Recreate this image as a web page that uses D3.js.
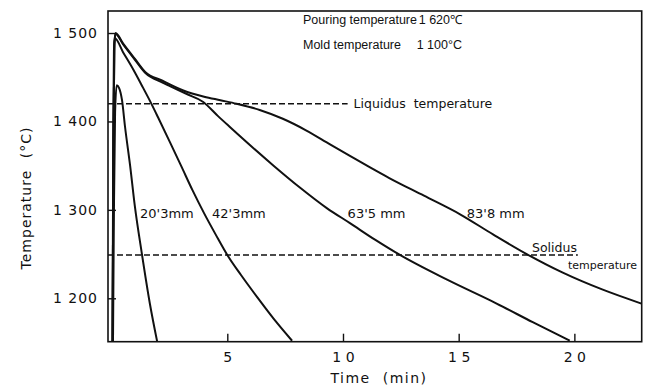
<!DOCTYPE html>
<html>
<head>
<meta charset="utf-8">
<script src="https://cdn.jsdelivr.net/npm/d3@7"></script>
<style>
  html, body { margin: 0; padding: 0; background: #fff; }
  svg { display: block; font-family: "DejaVu Sans", sans-serif; }
</style>
</head>
<body>
<svg id="chart" width="650" height="390"></svg>
<script>
// Cooling curves: [time (min), temperature (°C)]
const curve20 = [[0.06,1150],[0.10,1300],[0.15,1410],[0.22,1441],[0.32,1438],[0.45,1424],[0.58,1394],[0.80,1350],[1.00,1305],[1.31,1250],[1.66,1193],[1.97,1151]];
const curve42 = [[0.04,1150],[0.07,1380],[0.10,1480],[0.14,1494],[0.50,1478],[0.93,1459],[1.30,1441],[1.70,1421],[2.00,1405],[2.53,1376],[3.00,1350],[3.50,1322],[4.00,1296],[4.50,1272],[5.00,1249],[5.60,1226],[6.30,1201],[7.00,1177],[7.80,1152]];
const curve63 = [[0.04,1150],[0.08,1380],[0.12,1488],[0.17,1499],[0.50,1487],[1.00,1470],[1.45,1455],[2.20,1444],[2.52,1440],[3.25,1431],[3.96,1422],[4.60,1406],[5.10,1394],[6.12,1370],[7.00,1350],[8.15,1325],[9.30,1302],[10.30,1285],[11.40,1266],[12.46,1249],[14.50,1221],[16.64,1194],[18.20,1173],[19.80,1152]];
const curve84 = [[0.04,1150],[0.08,1380],[0.12,1488],[0.17,1500],[0.50,1488],[1.00,1471],[1.45,1456],[2.20,1446],[3.10,1435],[4.00,1428],[4.70,1424],[5.40,1420],[6.40,1413],[7.40,1403],[8.40,1390],[9.44,1374],[10.30,1361],[11.17,1348],[12.00,1336],[13.50,1316],[15.06,1295],[16.50,1272],[17.94,1250],[19.50,1229],[21.20,1210],[22.90,1194]];

const seriesNames = ["20'3mm", "42'3mm", "63'5 mm", "83'8 mm"];
// label anchor [time, temperature] for each curve label
const labelAt = [[1.23,1296],[4.34,1296],[10.2,1296],[15.35,1296]];

const liquidus = 1420;
const solidus = 1249;
const liquidusEnd = 10.2;
const solidusEnd = 20.15;

const xTicks = [5, 10, 15, 20];
const xTickLabels = ["5", "1 0", "1 5", "2 0"];
const yTicks = [1200, 1300, 1400, 1500];
const yTickLabels = ["1 200", "1 300", "1 400", "1 500"];

const pouringTemp = "1 620℃";
const moldTemp = "1 100°C";

const svg = d3.select("#chart");
const pL = 108, pR = 641.7, pT = 11, pB = 341.7;

const x = d3.scaleLinear().domain([-0.156, 22.91]).range([pL, pR]);
const y = d3.scaleLinear().domain([1150.9, 1524.9]).range([pB, pT]);

svg.append("defs").append("clipPath").attr("id", "plot")
  .append("rect").attr("x", pL).attr("y", pT)
  .attr("width", pR - pL).attr("height", pB - pT);

const line = d3.line().x(d => x(d[0])).y(d => y(d[1])).curve(d3.curveMonotoneX);

const g = svg.append("g").attr("clip-path", "url(#plot)");
[curve20, curve42, curve63, curve84].forEach(c => {
  g.append("path").datum(c).attr("d", line)
    .attr("fill", "none").attr("stroke", "#111").attr("stroke-width", 2)
    .attr("stroke-linejoin", "round");
});

// dashed liquidus and solidus lines
g.append("line").attr("x1", x(-0.156)).attr("x2", x(liquidusEnd))
  .attr("y1", y(liquidus)).attr("y2", y(liquidus))
  .attr("stroke", "#111").attr("stroke-width", 1.6).attr("stroke-dasharray", "6,3");
g.append("line").attr("x1", x(-0.156)).attr("x2", x(solidusEnd))
  .attr("y1", y(solidus)).attr("y2", y(solidus))
  .attr("stroke", "#111").attr("stroke-width", 1.6).attr("stroke-dasharray", "6,3");

// frame
svg.append("rect").attr("x", pL).attr("y", pT)
  .attr("width", pR - pL).attr("height", pB - pT)
  .attr("fill", "none").attr("stroke", "#111").attr("stroke-width", 1.6);

// axes with inward ticks
const xAxis = svg.append("g").attr("transform", `translate(0,${pB})`)
  .call(d3.axisBottom(x).tickValues(xTicks).tickSizeInner(-8).tickSizeOuter(0)
    .tickFormat((d, i) => xTickLabels[i]));
xAxis.select(".domain").remove();
xAxis.selectAll("line").attr("stroke", "#111").attr("stroke-width", 1.4);
xAxis.selectAll("text").attr("y", 10).attr("dy", "0.71em")
  .attr("font-size", 14).attr("fill", "#111").attr("font-family", "DejaVu Sans");

const yAxis = svg.append("g").attr("transform", `translate(${pL},0)`)
  .call(d3.axisLeft(y).tickValues(yTicks).tickSizeInner(-8).tickSizeOuter(0)
    .tickFormat((d, i) => yTickLabels[i]));
yAxis.select(".domain").remove();
yAxis.selectAll("line").attr("stroke", "#111").attr("stroke-width", 1.4);
yAxis.selectAll("text").attr("x", -10)
  .attr("font-size", 14).attr("fill", "#111").attr("font-family", "DejaVu Sans")
  .attr("letter-spacing", 1);

// axis titles
svg.append("text").attr("x", 379).attr("y", 383)
  .attr("text-anchor", "middle").attr("font-size", 14).attr("fill", "#111")
  .attr("letter-spacing", 1.5).attr("word-spacing", 6).text("Time (min)");
svg.append("text").attr("transform", "translate(31,198) rotate(-90)")
  .attr("text-anchor", "middle").attr("font-size", 14).attr("fill", "#111")
  .attr("letter-spacing", 1).attr("word-spacing", 6).text("Temperature (°C)");

// curve labels
seriesNames.forEach((name, i) => {
  svg.append("text").attr("x", x(labelAt[i][0])).attr("y", y(labelAt[i][1]))
    .attr("dy", "0.35em").attr("font-size", 13).attr("fill", "#111").text(name);
});

// line labels
svg.append("text").attr("x", x(liquidusEnd) + 6).attr("y", y(liquidus))
  .attr("dy", "0.35em").attr("font-size", 12.5).attr("fill", "#111")
  .attr("word-spacing", 4).text("Liquidus temperature");
svg.append("text").attr("x", x(18.17)).attr("y", y(solidus) - 3)
  .attr("font-size", 12.5).attr("fill", "#111").text("Solidus");
svg.append("text").attr("x", x(19.72)).attr("y", y(1237.6))
  .attr("dy", "0.35em").attr("font-size", 11).attr("fill", "#111").text("temperature");

// casting conditions
const note = svg.append("g").attr("font-size", 12.5).attr("fill", "#111")
  .attr("font-family", "Liberation Sans, Arial, sans-serif");
note.append("text").attr("x", 303).attr("y", 20).attr("dy", "0.35em").text("Pouring temperature");
note.append("text").attr("x", 462).attr("y", 20).attr("dy", "0.35em").attr("text-anchor", "end").text(pouringTemp);
note.append("text").attr("x", 303).attr("y", 45).attr("dy", "0.35em").text("Mold temperature");
note.append("text").attr("x", 462).attr("y", 45).attr("dy", "0.35em").attr("text-anchor", "end").text(moldTemp);
</script>
</body>
</html>
